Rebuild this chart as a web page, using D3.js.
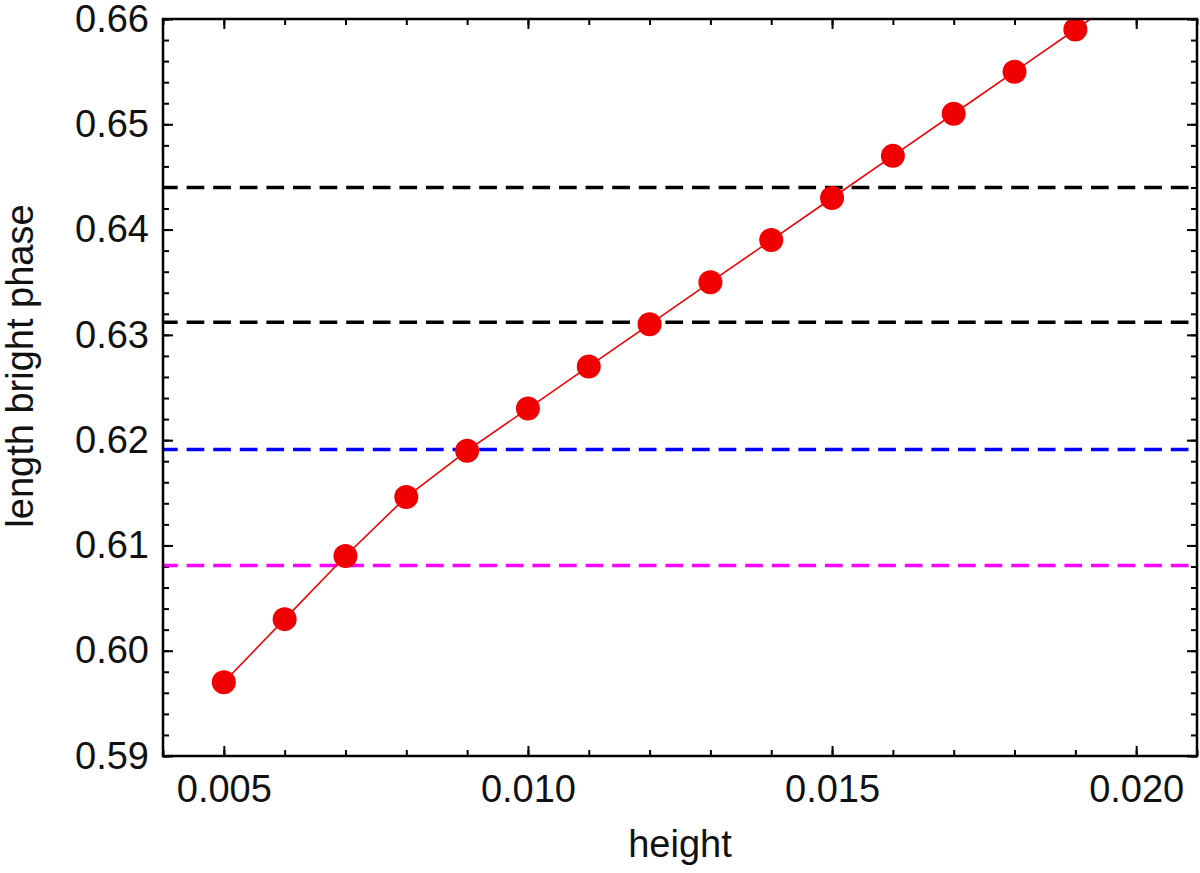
<!DOCTYPE html>
<html>
<head>
<meta charset="utf-8">
<script src="https://cdn.jsdelivr.net/npm/d3@7"></script>
<style>
  body { margin: 0; background: #fff; }
  text { font-family: "Liberation Sans", Arial, sans-serif; }
</style>
</head>
<body>
<div id="chart"></div>
<script>
// data
const heights = [0.005, 0.006, 0.007, 0.008, 0.009, 0.010, 0.011, 0.012, 0.013, 0.014, 0.015, 0.016, 0.017, 0.018, 0.019, 0.020];
const brightLen = [0.597, 0.603, 0.609, 0.6146, 0.619, 0.623, 0.627, 0.631, 0.635, 0.639, 0.643, 0.647, 0.651, 0.655, 0.659, 0.663];
const refValues = [0.644, 0.6312, 0.6191, 0.6081];
const refColors = ["#000000", "#000000", "#0000ff", "#ff00ff"];
const xTicks = [0.005, 0.010, 0.015, 0.020];
const yTicks = [0.59, 0.60, 0.61, 0.62, 0.63, 0.64, 0.65, 0.66];

var W = 1200, H = 873;
var margin = {top: 19, right: 3, bottom: 117, left: 163},
    width = W - margin.left - margin.right,
    height = H - margin.top - margin.bottom;

var svg = d3.select("#chart").append("svg")
  .attr("width", W).attr("height", H)
  .append("g")
  .attr("transform", "translate(" + margin.left + "," + margin.top + ")");

var x = d3.scaleLinear().domain([0.004, 0.021]).range([0, width]);
var y = d3.scaleLinear().domain([0.59, 0.66]).range([height, 0]);

svg.append("defs").append("clipPath").attr("id", "clip")
  .append("rect").attr("width", width).attr("height", height);

// minor ticks
var xMinor = d3.range(0.004, 0.0211, 0.001);
var yMinor = d3.range(0.59, 0.6601, 0.002);

function tickAxis(axis, vals, size, fmt) {
  return axis.tickValues(vals).tickSizeInner(size).tickSizeOuter(0)
    .tickPadding(14).tickFormat(fmt || "");
}

// bottom, top, left, right - all ticks point inwards
var axes = [
  {make: d3.axisBottom, s: x, t: "translate(0," + height + ")", minor: xMinor, major: xTicks, lab: d3.format(".3f")},
  {make: d3.axisTop, s: x, t: "translate(0,0)", minor: xMinor, major: xTicks},
  {make: d3.axisLeft, s: y, t: "translate(0,0)", minor: yMinor, major: yTicks, lab: d3.format(".2f")},
  {make: d3.axisRight, s: y, t: "translate(" + width + ",0)", minor: yMinor, major: yTicks}
];
axes.forEach(function(ax) {
  var g1 = svg.append("g").attr("transform", ax.t).call(tickAxis(ax.make(ax.s), ax.minor, -6));
  var g2 = svg.append("g").attr("transform", ax.t).call(tickAxis(ax.make(ax.s), ax.major, -10, ax.lab));
  [g1, g2].forEach(function(g) {
    g.select(".domain").remove();
    g.selectAll("line").attr("stroke", "#000").attr("stroke-width", 2);
    g.selectAll("text").attr("fill", "#111").style("font-size", "38px");
  });
});
svg.selectAll("text").filter(function() { return this.getAttribute("dy") === "0.71em"; }).attr("dy", "0.85em");

// reference levels
var lines = svg.append("g").attr("clip-path", "url(#clip)");
lines.selectAll(".ref").data(refValues).enter().append("line")
  .attr("class", "ref")
  .attr("x1", 0).attr("x2", width)
  .attr("y1", function(d) { return y(d); })
  .attr("y2", function(d) { return y(d); })
  .attr("stroke", function(d, i) { return refColors[i]; })
  .attr("stroke-width", 3.5)
  .attr("stroke-dasharray", "17.7,8.9")
  .attr("stroke-dashoffset", 3);

var data = heights.map(function(h, i) { return {h: h, v: brightLen[i]}; });

var valueline = d3.line()
  .x(function(d) { return x(d.h); })
  .y(function(d) { return y(d.v); });

lines.append("path").datum(data)
  .attr("d", valueline)
  .attr("fill", "none")
  .attr("stroke", "#f00000")
  .attr("stroke-width", 1.6);

lines.selectAll(".pt").data(data).enter().append("circle")
  .attr("class", "pt")
  .attr("cx", function(d) { return x(d.h); })
  .attr("cy", function(d) { return y(d.v); })
  .attr("r", 12)
  .attr("fill", "#f00000");

// frame
svg.append("rect").attr("width", width).attr("height", height)
  .attr("fill", "none").attr("stroke", "#000").attr("stroke-width", 2.5);

// axis titles
svg.append("text")
  .attr("x", x(0.0125)).attr("y", 838)
  .attr("text-anchor", "middle")
  .style("font-size", "38px").attr("fill", "#111")
  .text("height");

svg.append("text")
  .attr("transform", "translate(" + (33 - margin.left) + "," + (366 - margin.top) + ") rotate(-90)")
  .attr("text-anchor", "middle")
  .style("font-size", "38px").attr("fill", "#111")
  .text("length bright phase");
</script>
</body>
</html>
